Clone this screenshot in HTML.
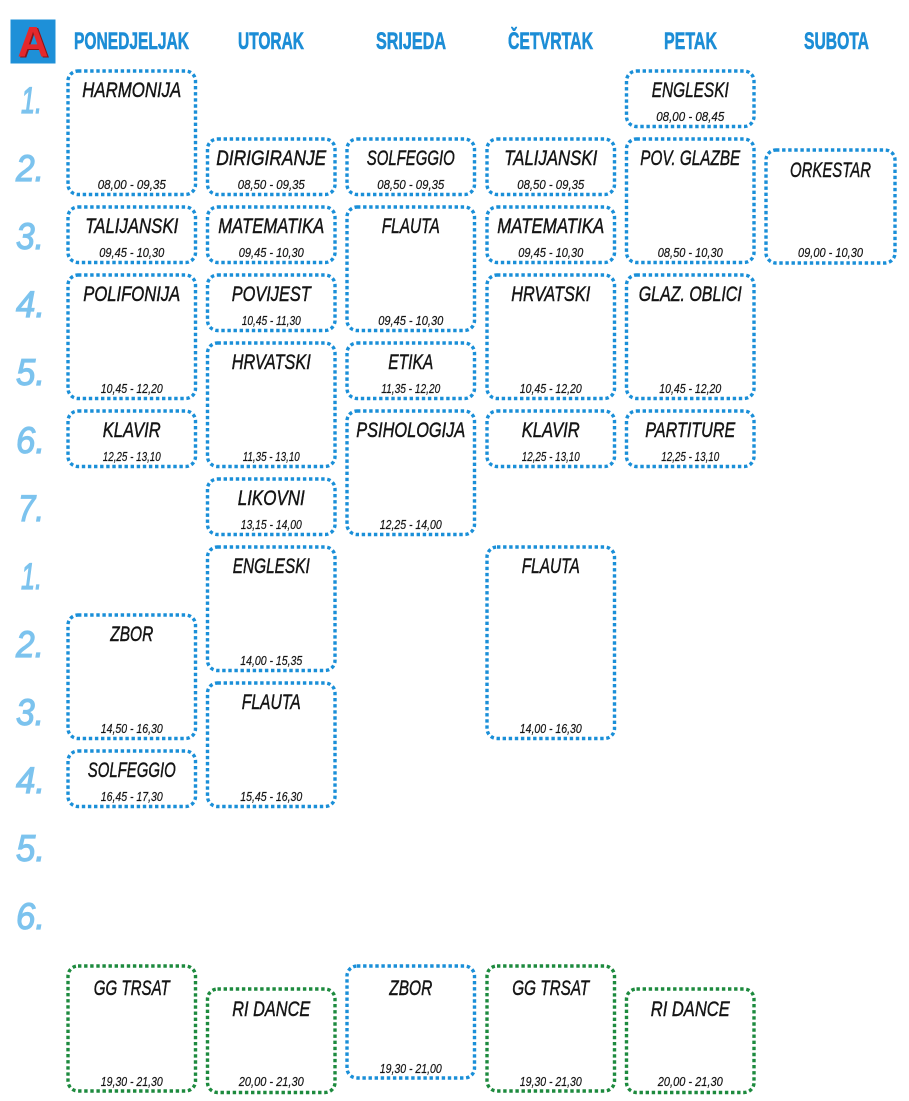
<!DOCTYPE html>
<html><head><meta charset="utf-8"><style>
html,body{margin:0;padding:0;background:#fff;}
svg{display:block;}
.b{fill:none;stroke:#1a8fd8;stroke-width:3.4;stroke-dasharray:3.4 2.7;}
.g{fill:none;stroke:#1d8a3e;stroke-width:3.4;stroke-dasharray:3.4 2.7;}
.t{font-family:"Liberation Sans",sans-serif;font-style:italic;font-size:21px;fill:#151515;stroke:#151515;stroke-width:0.45;text-anchor:middle;}
.m{font-family:"Liberation Sans",sans-serif;font-style:italic;font-size:13px;fill:#151515;stroke:#151515;stroke-width:0.2;text-anchor:middle;}
.h{font-family:"Liberation Sans",sans-serif;font-weight:bold;font-size:24px;fill:#1c8dd6;stroke:#1c8dd6;stroke-width:0.6;text-anchor:middle;}
.n{font-family:"Liberation Sans",sans-serif;font-style:italic;font-size:37px;fill:#7cc3ee;stroke:#7cc3ee;stroke-width:1.2;}
</style></head><body>
<svg width="909" height="1101" viewBox="0 0 909 1101" xmlns="http://www.w3.org/2000/svg">
<!-- logo -->
<rect x="10.5" y="19.5" width="45" height="44" fill="#1e90d8"/>
<text x="34.5" y="57.5" font-family="Liberation Sans,sans-serif" font-weight="bold" font-size="43" fill="#8a1418" text-anchor="middle">A</text>
<text x="33" y="56.5" font-family="Liberation Sans,sans-serif" font-weight="bold" font-size="43" fill="#e4282c" text-anchor="middle">A</text>

<!-- headers -->
<text class="h" x="131.5" y="49" textLength="115" lengthAdjust="spacingAndGlyphs">PONEDJELJAK</text>
<text class="h" x="271" y="49" textLength="66" lengthAdjust="spacingAndGlyphs">UTORAK</text>
<text class="h" x="411" y="49" textLength="70" lengthAdjust="spacingAndGlyphs">SRIJEDA</text>
<text class="h" x="550.5" y="49" textLength="85" lengthAdjust="spacingAndGlyphs">ČETVRTAK</text>
<text class="h" x="690.5" y="49" textLength="53" lengthAdjust="spacingAndGlyphs">PETAK</text>
<text class="h" x="836.5" y="49" textLength="65" lengthAdjust="spacingAndGlyphs">SUBOTA</text>

<!-- row numbers -->
<text class="n" x="21" y="113" textLength="21" lengthAdjust="spacingAndGlyphs">1.</text>
<text class="n" x="16" y="181" textLength="28" lengthAdjust="spacingAndGlyphs">2.</text>
<text class="n" x="16" y="249" textLength="28" lengthAdjust="spacingAndGlyphs">3.</text>
<text class="n" x="16" y="317" textLength="29" lengthAdjust="spacingAndGlyphs">4.</text>
<text class="n" x="16" y="385" textLength="29" lengthAdjust="spacingAndGlyphs">5.</text>
<text class="n" x="16" y="453" textLength="29" lengthAdjust="spacingAndGlyphs">6.</text>
<text class="n" x="18" y="521" textLength="26" lengthAdjust="spacingAndGlyphs">7.</text>
<text class="n" x="21" y="589" textLength="21" lengthAdjust="spacingAndGlyphs">1.</text>
<text class="n" x="16" y="657" textLength="28" lengthAdjust="spacingAndGlyphs">2.</text>
<text class="n" x="16" y="725" textLength="28" lengthAdjust="spacingAndGlyphs">3.</text>
<text class="n" x="16" y="793" textLength="29" lengthAdjust="spacingAndGlyphs">4.</text>
<text class="n" x="16" y="861" textLength="29" lengthAdjust="spacingAndGlyphs">5.</text>
<text class="n" x="16" y="929" textLength="29" lengthAdjust="spacingAndGlyphs">6.</text>

<!-- Column 1 -->
<rect class="b" x="68" y="71" width="127.5" height="123.5" rx="10"/>
<text class="t" x="131.75" y="97" textLength="99" lengthAdjust="spacingAndGlyphs">HARMONIJA</text>
<text class="m" x="131.75" y="189" textLength="68" lengthAdjust="spacingAndGlyphs">08,00 - 09,35</text>

<rect class="b" x="68" y="207" width="127.5" height="55.5" rx="10"/>
<text class="t" x="131.75" y="233" textLength="93" lengthAdjust="spacingAndGlyphs">TALIJANSKI</text>
<text class="m" x="131.75" y="257" textLength="65" lengthAdjust="spacingAndGlyphs">09,45 - 10,30</text>

<rect class="b" x="68" y="275" width="127.5" height="123.5" rx="10"/>
<text class="t" x="131.75" y="301" textLength="97" lengthAdjust="spacingAndGlyphs">POLIFONIJA</text>
<text class="m" x="131.75" y="393" textLength="62" lengthAdjust="spacingAndGlyphs">10,45 - 12,20</text>

<rect class="b" x="68" y="411" width="127.5" height="55.5" rx="10"/>
<text class="t" x="131.75" y="437" textLength="58" lengthAdjust="spacingAndGlyphs">KLAVIR</text>
<text class="m" x="131.75" y="461" textLength="58" lengthAdjust="spacingAndGlyphs">12,25 - 13,10</text>

<rect class="b" x="68" y="615" width="127.5" height="123.5" rx="10"/>
<text class="t" x="131.75" y="641" textLength="43" lengthAdjust="spacingAndGlyphs">ZBOR</text>
<text class="m" x="131.75" y="733" textLength="62" lengthAdjust="spacingAndGlyphs">14,50 - 16,30</text>

<rect class="b" x="68" y="751" width="127.5" height="55.5" rx="10"/>
<text class="t" x="131.75" y="777" textLength="88" lengthAdjust="spacingAndGlyphs">SOLFEGGIO</text>
<text class="m" x="131.75" y="801" textLength="62" lengthAdjust="spacingAndGlyphs">16,45 - 17,30</text>

<rect class="g" x="68" y="966" width="127.5" height="125" rx="10"/>
<text class="t" x="131.75" y="995" textLength="76" lengthAdjust="spacingAndGlyphs">GG TRSAT</text>
<text class="m" x="131.75" y="1086" textLength="62" lengthAdjust="spacingAndGlyphs">19,30 - 21,30</text>

<!-- Column 2 -->
<rect class="b" x="207.5" y="139" width="127.5" height="55.5" rx="10"/>
<text class="t" x="271.25" y="165" textLength="110" lengthAdjust="spacingAndGlyphs">DIRIGIRANJE</text>
<text class="m" x="271.25" y="189" textLength="67" lengthAdjust="spacingAndGlyphs">08,50 - 09,35</text>

<rect class="b" x="207.5" y="207" width="127.5" height="55.5" rx="10"/>
<text class="t" x="271.25" y="233" textLength="106" lengthAdjust="spacingAndGlyphs">MATEMATIKA</text>
<text class="m" x="271.25" y="257" textLength="65" lengthAdjust="spacingAndGlyphs">09,45 - 10,30</text>

<rect class="b" x="207.5" y="275" width="127.5" height="55.5" rx="10"/>
<text class="t" x="271.25" y="301" textLength="79" lengthAdjust="spacingAndGlyphs">POVIJEST</text>
<text class="m" x="271.25" y="325" textLength="59" lengthAdjust="spacingAndGlyphs">10,45 - 11,30</text>

<rect class="b" x="207.5" y="343" width="127.5" height="123.5" rx="10"/>
<text class="t" x="271.25" y="369" textLength="79" lengthAdjust="spacingAndGlyphs">HRVATSKI</text>
<text class="m" x="271.25" y="461" textLength="57" lengthAdjust="spacingAndGlyphs">11,35 - 13,10</text>

<rect class="b" x="207.5" y="479" width="127.5" height="55.5" rx="10"/>
<text class="t" x="271.25" y="505" textLength="67" lengthAdjust="spacingAndGlyphs">LIKOVNI</text>
<text class="m" x="271.25" y="529" textLength="61" lengthAdjust="spacingAndGlyphs">13,15 - 14,00</text>

<rect class="b" x="207.5" y="547" width="127.5" height="123.5" rx="10"/>
<text class="t" x="271.25" y="573" textLength="77" lengthAdjust="spacingAndGlyphs">ENGLESKI</text>
<text class="m" x="271.25" y="665" textLength="62" lengthAdjust="spacingAndGlyphs">14,00 - 15,35</text>

<rect class="b" x="207.5" y="683" width="127.5" height="123.5" rx="10"/>
<text class="t" x="271.25" y="709" textLength="59" lengthAdjust="spacingAndGlyphs">FLAUTA</text>
<text class="m" x="271.25" y="801" textLength="62" lengthAdjust="spacingAndGlyphs">15,45 - 16,30</text>

<rect class="g" x="207.5" y="989" width="127.5" height="103.5" rx="10"/>
<text class="t" x="271.25" y="1016" textLength="78" lengthAdjust="spacingAndGlyphs">RI DANCE</text>
<text class="m" x="271.25" y="1086" textLength="65" lengthAdjust="spacingAndGlyphs">20,00 - 21,30</text>

<!-- Column 3 -->
<rect class="b" x="347" y="139" width="127.5" height="55.5" rx="10"/>
<text class="t" x="410.75" y="165" textLength="88" lengthAdjust="spacingAndGlyphs">SOLFEGGIO</text>
<text class="m" x="410.75" y="189" textLength="67" lengthAdjust="spacingAndGlyphs">08,50 - 09,35</text>

<rect class="b" x="347" y="207" width="127.5" height="123.5" rx="10"/>
<text class="t" x="410.75" y="233" textLength="58" lengthAdjust="spacingAndGlyphs">FLAUTA</text>
<text class="m" x="410.75" y="325" textLength="65" lengthAdjust="spacingAndGlyphs">09,45 - 10,30</text>

<rect class="b" x="347" y="343" width="127.5" height="55.5" rx="10"/>
<text class="t" x="410.75" y="369" textLength="45" lengthAdjust="spacingAndGlyphs">ETIKA</text>
<text class="m" x="410.75" y="393" textLength="59" lengthAdjust="spacingAndGlyphs">11,35 - 12,20</text>

<rect class="b" x="347" y="411" width="127.5" height="123.5" rx="10"/>
<text class="t" x="410.75" y="437" textLength="109" lengthAdjust="spacingAndGlyphs">PSIHOLOGIJA</text>
<text class="m" x="410.75" y="529" textLength="62" lengthAdjust="spacingAndGlyphs">12,25 - 14,00</text>

<rect class="b" x="347" y="966" width="127.5" height="112" rx="10"/>
<text class="t" x="410.75" y="995" textLength="43" lengthAdjust="spacingAndGlyphs">ZBOR</text>
<text class="m" x="410.75" y="1073" textLength="62" lengthAdjust="spacingAndGlyphs">19,30 - 21,00</text>

<!-- Column 4 -->
<rect class="b" x="487" y="139" width="127.5" height="55.5" rx="10"/>
<text class="t" x="550.75" y="165" textLength="93" lengthAdjust="spacingAndGlyphs">TALIJANSKI</text>
<text class="m" x="550.75" y="189" textLength="67" lengthAdjust="spacingAndGlyphs">08,50 - 09,35</text>

<rect class="b" x="487" y="207" width="127.5" height="55.5" rx="10"/>
<text class="t" x="550.75" y="233" textLength="107" lengthAdjust="spacingAndGlyphs">MATEMATIKA</text>
<text class="m" x="550.75" y="257" textLength="65" lengthAdjust="spacingAndGlyphs">09,45 - 10,30</text>

<rect class="b" x="487" y="275" width="127.5" height="123.5" rx="10"/>
<text class="t" x="550.75" y="301" textLength="79" lengthAdjust="spacingAndGlyphs">HRVATSKI</text>
<text class="m" x="550.75" y="393" textLength="62" lengthAdjust="spacingAndGlyphs">10,45 - 12,20</text>

<rect class="b" x="487" y="411" width="127.5" height="55.5" rx="10"/>
<text class="t" x="550.75" y="437" textLength="58" lengthAdjust="spacingAndGlyphs">KLAVIR</text>
<text class="m" x="550.75" y="461" textLength="58" lengthAdjust="spacingAndGlyphs">12,25 - 13,10</text>

<rect class="b" x="487" y="547" width="127.5" height="191.5" rx="10"/>
<text class="t" x="550.75" y="573" textLength="58" lengthAdjust="spacingAndGlyphs">FLAUTA</text>
<text class="m" x="550.75" y="733" textLength="62" lengthAdjust="spacingAndGlyphs">14,00 - 16,30</text>

<rect class="g" x="487" y="966" width="127.5" height="125" rx="10"/>
<text class="t" x="550.75" y="995" textLength="77" lengthAdjust="spacingAndGlyphs">GG TRSAT</text>
<text class="m" x="550.75" y="1086" textLength="62" lengthAdjust="spacingAndGlyphs">19,30 - 21,30</text>

<!-- Column 5 -->
<rect class="b" x="626.5" y="71" width="127.5" height="55.5" rx="10"/>
<text class="t" x="690.25" y="97" textLength="77" lengthAdjust="spacingAndGlyphs">ENGLESKI</text>
<text class="m" x="690.25" y="121" textLength="68" lengthAdjust="spacingAndGlyphs">08,00 - 08,45</text>

<rect class="b" x="626.5" y="139" width="127.5" height="123.5" rx="10"/>
<text class="t" x="690.25" y="165" textLength="100" lengthAdjust="spacingAndGlyphs">POV. GLAZBE</text>
<text class="m" x="690.25" y="257" textLength="65" lengthAdjust="spacingAndGlyphs">08,50 - 10,30</text>

<rect class="b" x="626.5" y="275" width="127.5" height="123.5" rx="10"/>
<text class="t" x="690.25" y="301" textLength="103" lengthAdjust="spacingAndGlyphs">GLAZ. OBLICI</text>
<text class="m" x="690.25" y="393" textLength="62" lengthAdjust="spacingAndGlyphs">10,45 - 12,20</text>

<rect class="b" x="626.5" y="411" width="127.5" height="55.5" rx="10"/>
<text class="t" x="690.25" y="437" textLength="90" lengthAdjust="spacingAndGlyphs">PARTITURE</text>
<text class="m" x="690.25" y="461" textLength="58" lengthAdjust="spacingAndGlyphs">12,25 - 13,10</text>

<rect class="g" x="626.5" y="989" width="127.5" height="103.5" rx="10"/>
<text class="t" x="690.25" y="1016" textLength="79" lengthAdjust="spacingAndGlyphs">RI DANCE</text>
<text class="m" x="690.25" y="1086" textLength="65" lengthAdjust="spacingAndGlyphs">20,00 - 21,30</text>

<!-- Column 6 -->
<rect class="b" x="766" y="150" width="129" height="113" rx="10"/>
<text class="t" x="830.5" y="177" textLength="81" lengthAdjust="spacingAndGlyphs">ORKESTAR</text>
<text class="m" x="830.5" y="257" textLength="65" lengthAdjust="spacingAndGlyphs">09,00 - 10,30</text>
</svg>
</body></html>
